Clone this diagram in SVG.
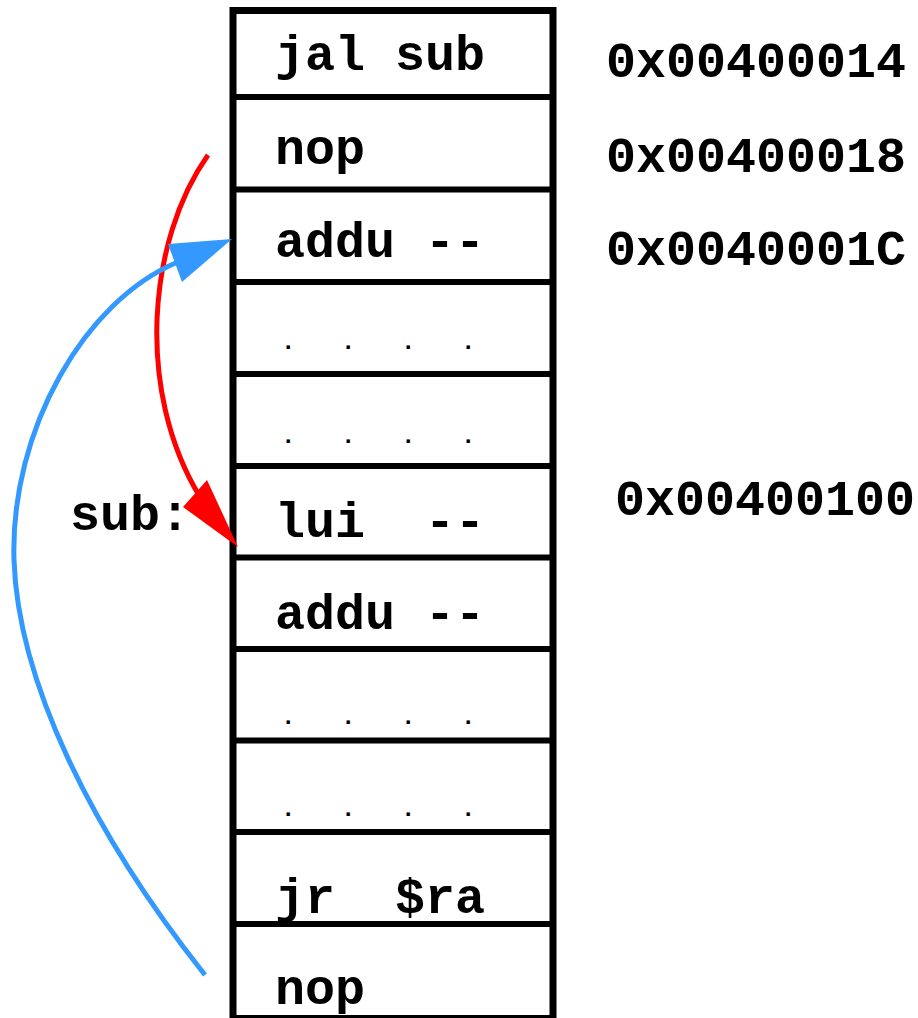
<svg xmlns="http://www.w3.org/2000/svg" width="918" height="1018" viewBox="0 0 918 1018">
  <style>
    .frame { stroke: #000; stroke-width: 7; fill: none; }
    .sep { stroke: #000; stroke-width: 6; }
    .code { font-family: "Liberation Mono", "Courier New", monospace; font-size: 50px; font-weight: bold; fill: #000; }
    .dots { font-family: "Liberation Mono", "Courier New", monospace; font-size: 24px; font-weight: bold; letter-spacing: 15.6px; fill: #000; }
    .call { stroke: #ff0000; stroke-width: 5; fill: none; }
    .ret { stroke: #3399ff; stroke-width: 5; fill: none; }
    .call-head { fill: #ff0000; }
    .ret-head { fill: #3399ff; }
  </style>

  <rect width="918" height="1018" fill="#fff"/>

  <!-- memory column: outer frame and slot separators -->
  <g id="memory-column">
    <line class="frame" x1="233" y1="7" x2="233" y2="1018"/>
    <line class="frame" x1="553" y1="7" x2="553" y2="1018"/>
    <line class="frame" x1="230" y1="10.5" x2="556" y2="10.5"/>
    <line class="sep" x1="233" y1="97" x2="553" y2="97"/>
    <line class="sep" x1="233" y1="189.5" x2="553" y2="189.5"/>
    <line class="sep" x1="233" y1="282" x2="553" y2="282"/>
    <line class="sep" x1="233" y1="374" x2="553" y2="374"/>
    <line class="sep" x1="233" y1="466" x2="553" y2="466"/>
    <line class="sep" x1="233" y1="557.5" x2="553" y2="557.5"/>
    <line class="sep" x1="233" y1="649" x2="553" y2="649"/>
    <line class="sep" x1="233" y1="740.5" x2="553" y2="740.5"/>
    <line class="sep" x1="233" y1="832" x2="553" y2="832"/>
    <line class="sep" x1="233" y1="924" x2="553" y2="924"/>
    <line class="sep" x1="230" y1="1018" x2="556" y2="1018"/>
  </g>

  <!-- instruction slots -->
  <g id="slot-jal"><text class="code" x="275" y="70" xml:space="preserve">jal sub</text></g>
  <g id="slot-nop1"><text class="code" x="275" y="164">nop</text></g>
  <g id="slot-addu1"><text class="code" x="275" y="257" xml:space="preserve">addu --</text></g>
  <g id="slot-gap1"><text class="dots" x="281" y="349" xml:space="preserve">. . . .</text></g>
  <g id="slot-gap2"><text class="dots" x="281" y="443" xml:space="preserve">. . . .</text></g>
  <g id="slot-lui"><text class="code" x="275" y="537" xml:space="preserve">lui  --</text></g>
  <g id="slot-addu2"><text class="code" x="275" y="629" xml:space="preserve">addu --</text></g>
  <g id="slot-gap3"><text class="dots" x="281" y="724" xml:space="preserve">. . . .</text></g>
  <g id="slot-gap4"><text class="dots" x="281" y="816" xml:space="preserve">. . . .</text></g>
  <g id="slot-jr"><text class="code" x="275" y="913" xml:space="preserve">jr  $ra</text></g>
  <g id="slot-nop2"><text class="code" x="275" y="1004">nop</text></g>

  <!-- addresses -->
  <g id="addresses">
    <text class="code" x="606" y="77">0x00400014</text>
    <text class="code" x="606" y="172">0x00400018</text>
    <text class="code" x="606" y="265">0x0040001C</text>
    <text class="code" x="615" y="515">0x00400100</text>
  </g>

  <!-- label -->
  <g id="label-sub"><text class="code" x="70" y="530">sub:</text></g>

  <!-- control-flow arrows -->
  <g id="connectors">
    <path class="call" d="M208,155 C148,240 135,390 200,497"/>
    <polygon class="call-head" points="238,547 183,507 207,480"/>
    <path class="ret" d="M205,975 C90,830 18,680 14,560 C10,430 85,300 178,262"/>
    <polygon class="ret-head" points="232,239 168,244 182,282"/>
  </g>
</svg>
